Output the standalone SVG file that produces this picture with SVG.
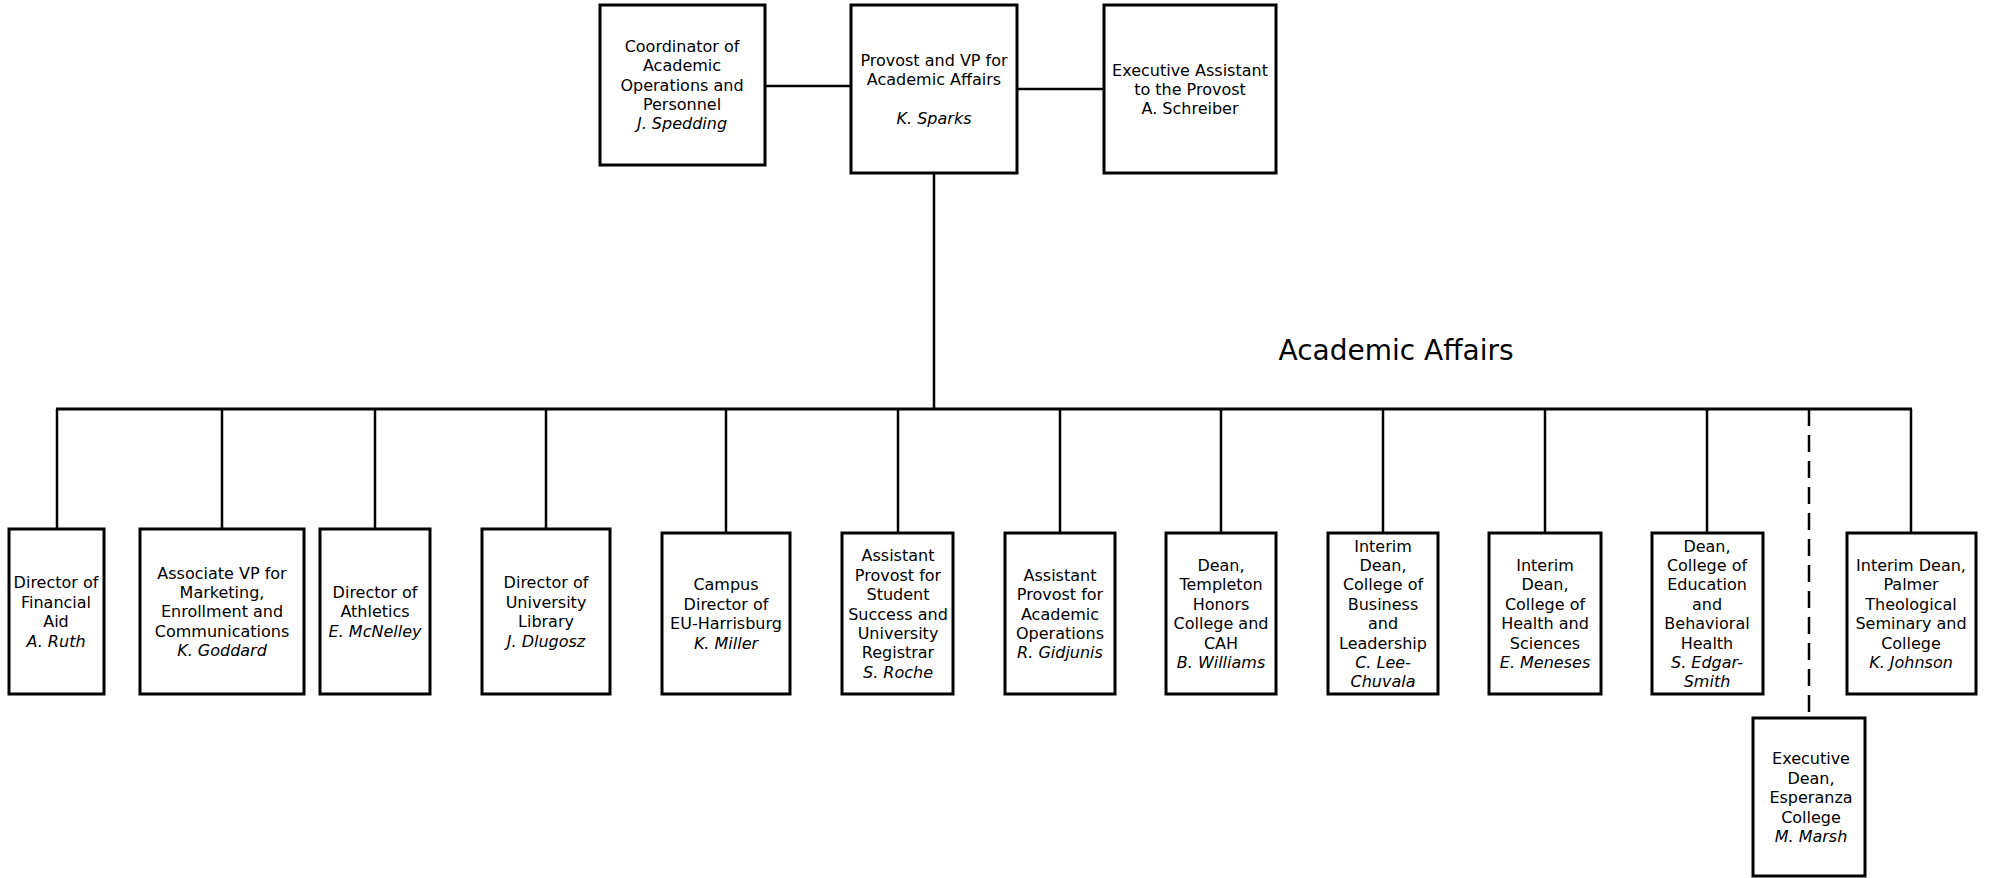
<svg xmlns="http://www.w3.org/2000/svg" width="1989" height="878" viewBox="0 0 1989 878">
<style>
.box{fill:#fff;stroke:#000;stroke-width:3}
.con{fill:none;stroke:#000;stroke-width:2.5}
.dash{fill:none;stroke:#000;stroke-width:2.5;stroke-dasharray:17 9}
text{font-family:"DejaVu Sans","Liberation Sans",sans-serif;font-size:16px;fill:#000;text-anchor:middle;dominant-baseline:central}
.i{font-style:italic}
.title{font-size:28px}
</style>
<rect width="1989" height="878" fill="#fff"/>
<g id="connectors">
<line class="con" x1="765" y1="86" x2="851" y2="86"/>
<line class="con" x1="1017" y1="89" x2="1104" y2="89"/>
<line class="con" x1="934" y1="173" x2="934" y2="409"/>
<line class="con" x1="56" y1="409" x2="1912" y2="409" style="stroke-width:3"/>
<line class="con" x1="57" y1="409" x2="57" y2="529"/>
<line class="con" x1="222" y1="409" x2="222" y2="529"/>
<line class="con" x1="375" y1="409" x2="375" y2="529"/>
<line class="con" x1="546" y1="409" x2="546" y2="529"/>
<line class="con" x1="726" y1="409" x2="726" y2="533"/>
<line class="con" x1="898" y1="409" x2="898" y2="533"/>
<line class="con" x1="1060" y1="409" x2="1060" y2="533"/>
<line class="con" x1="1221" y1="409" x2="1221" y2="533"/>
<line class="con" x1="1383" y1="409" x2="1383" y2="533"/>
<line class="con" x1="1545" y1="409" x2="1545" y2="533"/>
<line class="con" x1="1707" y1="409" x2="1707" y2="533"/>
<line class="dash" x1="1809" y1="409" x2="1809" y2="718"/>
<line class="con" x1="1911" y1="409" x2="1911" y2="533"/>
</g>
<text class="title" x="1396" y="350">Academic Affairs</text>
<g id="coordinator">
<rect class="box" x="600" y="5" width="165" height="160"/>
<text x="682" y="46">Coordinator of</text>
<text x="682" y="65">Academic</text>
<text x="682" y="85">Operations and</text>
<text x="682" y="104">Personnel</text>
<text x="682" y="123" class="i">J. Spedding</text>
</g>
<g id="provost">
<rect class="box" x="851" y="5" width="166" height="168"/>
<text x="934" y="60">Provost and VP for</text>
<text x="934" y="79">Academic Affairs</text>
<text x="934" y="118" class="i">K. Sparks</text>
</g>
<g id="exec-assistant">
<rect class="box" x="1104" y="5" width="172" height="168"/>
<text x="1190" y="70">Executive Assistant</text>
<text x="1190" y="89">to the Provost</text>
<text x="1190" y="108">A. Schreiber</text>
</g>
<g id="fin-aid">
<rect class="box" x="9" y="529" width="95" height="165"/>
<text x="56" y="582">Director of</text>
<text x="56" y="602">Financial</text>
<text x="56" y="621">Aid</text>
<text x="56" y="641" class="i">A. Ruth</text>
</g>
<g id="marketing">
<rect class="box" x="140" y="529" width="164" height="165"/>
<text x="222" y="573">Associate VP for</text>
<text x="222" y="592">Marketing,</text>
<text x="222" y="611">Enrollment and</text>
<text x="222" y="631">Communications</text>
<text x="222" y="650" class="i">K. Goddard</text>
</g>
<g id="athletics">
<rect class="box" x="320" y="529" width="110" height="165"/>
<text x="375" y="592">Director of</text>
<text x="375" y="611">Athletics</text>
<text x="375" y="631" class="i">E. McNelley</text>
</g>
<g id="library">
<rect class="box" x="482" y="529" width="128" height="165"/>
<text x="546" y="582">Director of</text>
<text x="546" y="602">University</text>
<text x="546" y="621">Library</text>
<text x="546" y="641" class="i">J. Dlugosz</text>
</g>
<g id="harrisburg">
<rect class="box" x="662" y="533" width="128" height="161"/>
<text x="726" y="584">Campus</text>
<text x="726" y="604">Director of</text>
<text x="726" y="623">EU-Harrisburg</text>
<text x="726" y="643" class="i">K. Miller</text>
</g>
<g id="student-success">
<rect class="box" x="842" y="533" width="111" height="161"/>
<text x="898" y="555">Assistant</text>
<text x="898" y="575">Provost for</text>
<text x="898" y="594">Student</text>
<text x="898" y="614">Success and</text>
<text x="898" y="633">University</text>
<text x="898" y="652">Registrar</text>
<text x="898" y="672" class="i">S. Roche</text>
</g>
<g id="academic-operations">
<rect class="box" x="1005" y="533" width="110" height="161"/>
<text x="1060" y="575">Assistant</text>
<text x="1060" y="594">Provost for</text>
<text x="1060" y="614">Academic</text>
<text x="1060" y="633">Operations</text>
<text x="1060" y="652" class="i">R. Gidjunis</text>
</g>
<g id="templeton">
<rect class="box" x="1166" y="533" width="110" height="161"/>
<text x="1221" y="565">Dean,</text>
<text x="1221" y="584">Templeton</text>
<text x="1221" y="604">Honors</text>
<text x="1221" y="623">College and</text>
<text x="1221" y="643">CAH</text>
<text x="1221" y="662" class="i">B. Williams</text>
</g>
<g id="business">
<rect class="box" x="1328" y="533" width="110" height="161"/>
<text x="1383" y="546">Interim</text>
<text x="1383" y="565">Dean,</text>
<text x="1383" y="584">College of</text>
<text x="1383" y="604">Business</text>
<text x="1383" y="623">and</text>
<text x="1383" y="643">Leadership</text>
<text x="1383" y="662" class="i">C. Lee-</text>
<text x="1383" y="681" class="i">Chuvala</text>
</g>
<g id="health">
<rect class="box" x="1489" y="533" width="112" height="161"/>
<text x="1545" y="565">Interim</text>
<text x="1545" y="584">Dean,</text>
<text x="1545" y="604">College of</text>
<text x="1545" y="623">Health and</text>
<text x="1545" y="643">Sciences</text>
<text x="1545" y="662" class="i">E. Meneses</text>
</g>
<g id="education">
<rect class="box" x="1652" y="533" width="111" height="161"/>
<text x="1707" y="546">Dean,</text>
<text x="1707" y="565">College of</text>
<text x="1707" y="584">Education</text>
<text x="1707" y="604">and</text>
<text x="1707" y="623">Behavioral</text>
<text x="1707" y="643">Health</text>
<text x="1707" y="662" class="i">S. Edgar-</text>
<text x="1707" y="681" class="i">Smith</text>
</g>
<g id="palmer">
<rect class="box" x="1847" y="533" width="129" height="161"/>
<text x="1911" y="565">Interim Dean,</text>
<text x="1911" y="584">Palmer</text>
<text x="1911" y="604">Theological</text>
<text x="1911" y="623">Seminary and</text>
<text x="1911" y="643">College</text>
<text x="1911" y="662" class="i">K. Johnson</text>
</g>
<g id="esperanza">
<rect class="box" x="1753" y="718" width="112" height="158"/>
<text x="1811" y="758">Executive</text>
<text x="1811" y="778">Dean,</text>
<text x="1811" y="797">Esperanza</text>
<text x="1811" y="817">College</text>
<text x="1811" y="836" class="i">M. Marsh</text>
</g>
</svg>
